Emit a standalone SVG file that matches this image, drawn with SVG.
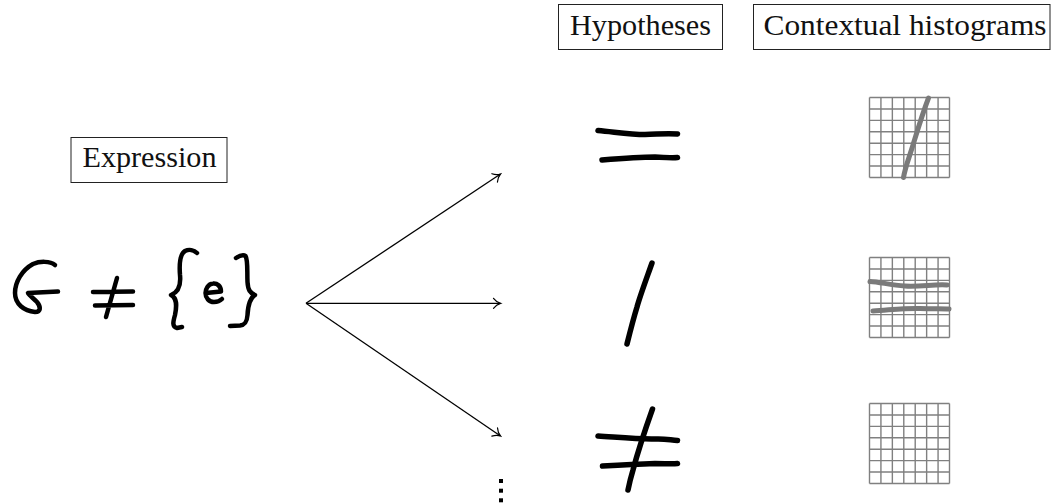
<svg xmlns="http://www.w3.org/2000/svg" width="1051" height="503" viewBox="0 0 1051 503">
<style>
.lbl{font-family:"Liberation Serif","DejaVu Serif",serif;font-size:29px;fill:#111}
.box{fill:none;stroke:#222;stroke-width:1}
.ink{fill:none;stroke:#000;stroke-linecap:round;stroke-linejoin:round}
.hand{stroke-width:4.5}
.hyp{stroke-width:5.5}
.grid{fill:none;stroke:#808080;stroke-width:1.4}
.hist{fill:none;stroke:#7a7a7a;stroke-width:5;stroke-linecap:round;stroke-linejoin:round}
.conn{fill:none;stroke:#000;stroke-width:1.3}
</style>
<defs>
<marker id="arr" markerUnits="userSpaceOnUse" viewBox="-9 -7 11 14" refX="0" refY="0" markerWidth="11" markerHeight="14" orient="auto">
<path d="M-7,-5 C-4.5,-1.7 -1.7,-0.5 0,0 C-1.7,0.5 -4.5,1.7 -7,5" fill="none" stroke="#000" stroke-width="1.2" stroke-linecap="round"/>
</marker>
<g id="gridcell">
<path class="grid" d="M0,0V80M11.43,0V80M22.86,0V80M34.29,0V80M45.71,0V80M57.14,0V80M68.57,0V80M80,0V80M0,0H80M0,11.43H80M0,22.86H80M0,34.29H80M0,45.71H80M0,57.14H80M0,68.57H80M0,80H80"/>
</g>
</defs>
<rect width="1051" height="503" fill="#fff"/>

<g id="expression-label">
<rect class="box" x="71" y="137.5" width="156" height="45"/>
<text class="lbl" x="82.5" y="167" textLength="134" lengthAdjust="spacingAndGlyphs">Expression</text>
</g>
<g id="hypotheses-label">
<rect class="box" x="558.5" y="4.5" width="164" height="45"/>
<text class="lbl" x="570" y="35" textLength="141" lengthAdjust="spacingAndGlyphs">Hypotheses</text>
</g>
<g id="histograms-label">
<rect class="box" x="753.5" y="4.5" width="296.5" height="45"/>
<text class="lbl" x="763.5" y="35" textLength="283" lengthAdjust="spacingAndGlyphs">Contextual histograms</text>
</g>

<g id="expression">
<path class="ink hand" d="M55,265 C50,261 40,261 33,264 C22,270 15,282 15,293 C15,304 24,311 35,312 C41,312 41,307 37,302 C33,298 29,295 28,293 L58,291.5"/>
<path class="ink hand" d="M93,292 L133,291.5M95,305.5 L133,305M117,278 L106,317"/>
<path class="ink hand" d="M197,253 C194,250 189,249 185,251 C180,254 179,262 180,275 C181,285 179,292 171,295 C177,298 177,305 175,315 C173,322 172,327 177,328 L182,327"/>
<path class="ink hand" d="M206,293 L221,291.5 C221,286 217,283 213,283.5 C208,284 205.5,289 205.5,293 C205.5,298 209,302 214,302 C218,302 220.5,300.5 222,299"/>
<path class="ink hand" d="M236,258 C239,256 243,254 245.5,256 C248,260 247,270 247.5,282 C248,290 250,293 255,295 C250,298 248,305 247.5,315 C247,322 245,325 240,325.5 L230,326"/>
</g>

<g id="connectors">
<path class="conn" d="M306,303.3 L500.5,174" marker-end="url(#arr)"/>
<path class="conn" d="M306,303.3 L500.5,303.3" marker-end="url(#arr)"/>
<path class="conn" d="M306,303.3 L500.5,436" marker-end="url(#arr)"/>
</g>

<g id="more-dots" fill="#000">
<rect x="499" y="479" width="4" height="4"/>
<rect x="499" y="488.7" width="4" height="4"/>
<rect x="499" y="498.3" width="4" height="4"/>
</g>

<g id="hypothesis-1">
<path class="ink hyp" d="M598,130.5 C615,132 630,134.5 645,134.5 C660,134 668,133 677.5,134"/>
<path class="ink hyp" d="M602,160 C620,158.5 640,157 655,157 C665,157.5 672,158 677.5,157.5"/>
</g>
<g id="hypothesis-2">
<path class="ink hyp" d="M652,263 C646,280 640,296 637,307 C633,320 630,332 627,344"/>
</g>
<g id="hypothesis-3">
<path class="ink hyp" d="M652.5,409 C645,430 637,455 633,470 C630,480 629,485 628,490"/>
<path class="ink hyp" d="M598,436 C620,437.5 640,439.5 655,439 C665,438.5 670,440 677.5,440.5"/>
<path class="ink hyp" d="M602.5,466 C620,465 640,464 655,463.5 C665,463.5 672,464 677.5,463.5"/>
</g>

<g id="histogram-1">
<use href="#gridcell" x="869.5" y="97.5"/>
<path class="hist" d="M928.5,98 C922,115 917,132 913,145 C909,158 905,168 903.5,177.5"/>
</g>
<g id="histogram-2">
<use href="#gridcell" x="869.5" y="257.5"/>
<path class="hist" d="M870,281.5 C880,282 890,285 905,286 C920,287 935,284 947,285"/>
<path class="hist" d="M873,311 C890,310 905,308 920,308.5 C935,309 942,308.5 949,309"/>
</g>
<g id="histogram-3">
<use href="#gridcell" x="869.5" y="403.5"/>
</g>
</svg>
